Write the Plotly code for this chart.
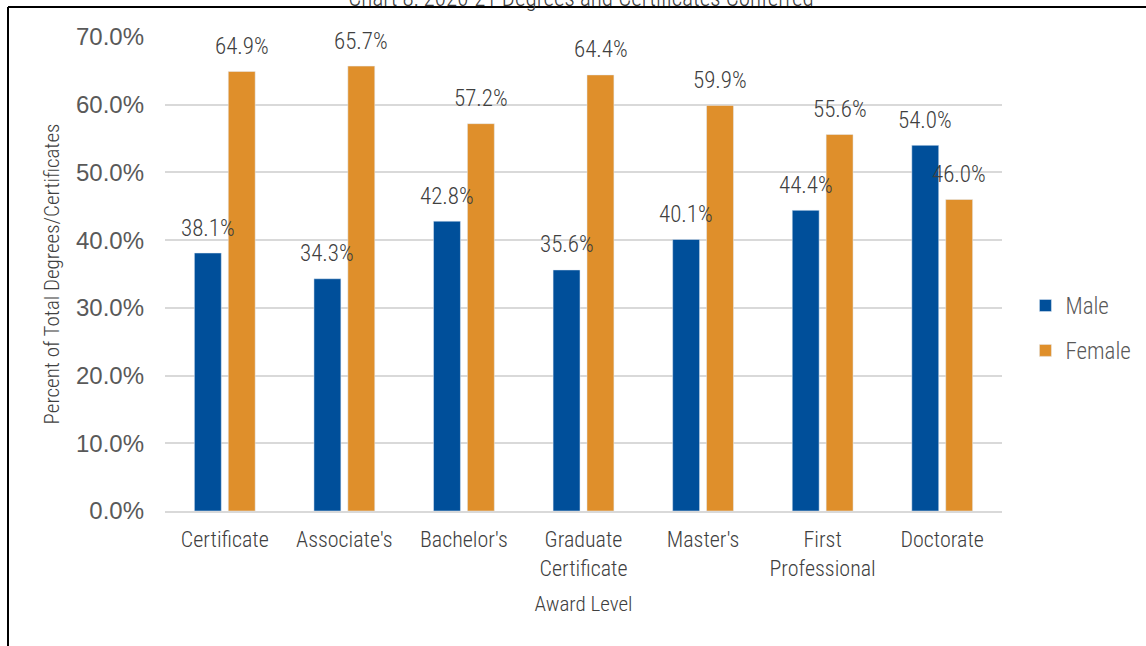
import plotly.graph_objects as go

categories = ["Certificate", "Associate's", "Bachelor's", "Graduate<br>Certificate",
              "Master's", "First<br>Professional", "Doctorate"]
male = [38.1, 34.3, 42.8, 35.6, 40.1, 44.4, 54.0]
female = [64.9, 65.7, 57.2, 64.4, 59.9, 55.6, 46.0]
y_ticks = [0, 10, 20, 30, 40, 50, 60, 70]
y_tick_labels = [f"{v:.1f}%" for v in y_ticks]

NARROW = "Roboto Condensed, Roboto, sans-serif"
BLUE = "#004F9A"
ORANGE = "#DF8F2B"

fig = go.Figure()
fig.add_trace(go.Bar(x=categories, y=male, name="Male", marker_color=BLUE,
                     legendgroup="m"))
fig.add_trace(go.Bar(x=categories, y=female, name="Female", marker_color=ORANGE,
                     legendgroup="f"))

annotations = []
for c, m, f in zip(categories, male, female):
    for v, dx in ((m, -17), (f, 17)):
        annotations.append(dict(x=c, y=v, xref="x", yref="y", text=f"{v:.1f}%",
                                showarrow=False, xshift=dx, yshift=25,
                                yanchor="middle", xanchor="center",
                                font=dict(family=NARROW, size=23, weight=300,
                                          color="#404040")))

fig.update_layout(
    width=1146, height=646,
    margin=dict(l=165, r=144, t=37, b=135, autoexpand=False),
    paper_bgcolor="white", plot_bgcolor="white",
    barmode="group", bargap=0.433, bargroupgap=0.206,
    title=dict(text="Chart 8: 2020-21 Degrees and Certificates Conferred",
               x=0.507, xanchor="center", y=1 - 6 / 646, yanchor="bottom",
               font=dict(family=NARROW, size=23, weight=300, color="#404040")),
    legend=dict(x=1.028, y=0.386, xanchor="left", yanchor="middle",
                font=dict(family=NARROW, size=23, weight=300, color="#595959"),
                tracegroupgap=12, bgcolor="rgba(0,0,0,0)"),
    annotations=annotations,
    xaxis=dict(showgrid=False, showline=True, linecolor="#D9D9D9", linewidth=2,
               ticks="", ticklabelstandoff=8, automargin=False,
               tickfont=dict(family=NARROW, size=22, weight=300, color="#404040"),
               title=dict(text="Award Level", standoff=16,
                          font=dict(family=NARROW, size=21, weight=300,
                                    color="#404040"))),
    yaxis=dict(range=[0, 70], tickvals=y_ticks, ticktext=y_tick_labels,
               showgrid=True, gridcolor="#D9D9D9", gridwidth=2, zeroline=False,
               ticks="", ticklabelstandoff=20, automargin=False,
               tickfont=dict(family="Liberation Sans, Arial, sans-serif", size=24,
                             color="#595959"),
               title=dict(text="Percent of Total Degrees/Certificates", standoff=10,
                          font=dict(family=NARROW, size=21, weight=300,
                                    color="#404040"))),
    shapes=[
        dict(type="line", xref="paper", yref="paper", x0=(8 - 165) / 837, x1=1.3,
             y0=(511 - 7) / 474, y1=(511 - 7) / 474,
             line=dict(color="black", width=2)),
        dict(type="line", xref="paper", yref="paper", x0=(8 - 165) / 837,
             x1=(8 - 165) / 837, y0=(511 - 7) / 474, y1=-0.4,
             line=dict(color="black", width=2)),
    ],
)

fig.write_html("out.html", config={"displayModeBar": False},
               post_script="document.body.style.margin='0';document.body.style.overflow='hidden';")
